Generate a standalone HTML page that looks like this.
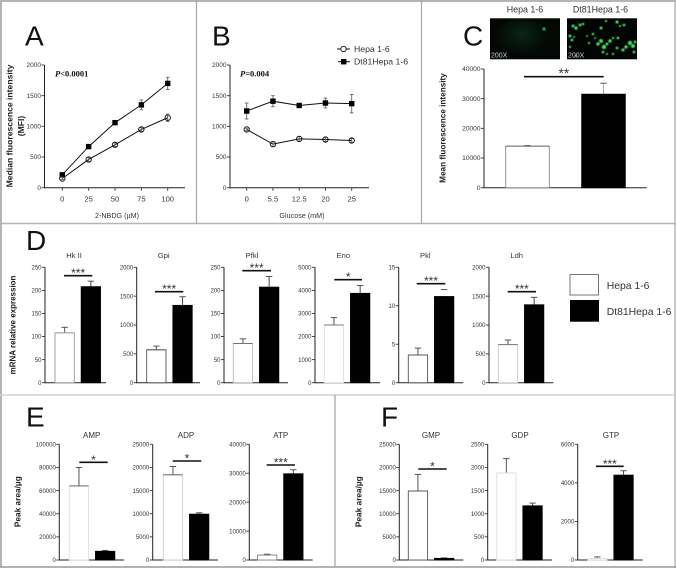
<!DOCTYPE html>
<html lang="en">
<head>
<meta charset="utf-8">
<title>Dt81Hepa 1-6 metabolism figure</title>
<style>
html,body{margin:0;padding:0;background:#fff;}
#figure{display:block;width:676px;height:568px;font-family:"Liberation Sans",sans-serif;filter:blur(0.35px);}
</style>
</head>
<body>
<svg id="figure" width="676" height="568" viewBox="0 0 676 568" xmlns="http://www.w3.org/2000/svg"></svg>
<script>
// ---- Line-chart data (panels A, B) ----
const nbdgCategories = ['0', '25', '50', '75', '100'];
const nbdgHepa = [150, 460, 700, 950, 1140];
const nbdgHepaErr = [20, 30, 30, 30, 60];
const nbdgDt81 = [210, 670, 1060, 1350, 1700];
const nbdgDt81Err = [20, 30, 30, 80, 100];
const glucoseCategories = ['0', '5.5', '12.5', '20', '25'];
const glucoseHepa = [950, 710, 795, 785, 770];
const glucoseHepaErr = [20, 40, 40, 30, 30];
const glucoseDt81 = [1250, 1410, 1340, 1380, 1370];
const glucoseDt81Err = [130, 90, 30, 80, 150];
const mfiTicks = [0, 500, 1000, 1500, 2000];

// ---- Bar-chart data ----
const groupLabels = ['Hepa 1-6', 'Dt81Hepa 1-6'];
const meanFluorValues = [14000, 31500];
const meanFluorErrors = [200, 3700];
const meanFluorTicks = [0, 10000, 20000, 30000, 40000];
const hkValues = [108, 208];
const hkErrors = [12, 12];
const hkTicks = [0, 50, 100, 150, 200, 250];
const gpiValues = [570, 1340];
const gpiErrors = [65, 150];
const gpiTicks = [0, 500, 1000, 1500, 2000];
const pfklValues = [85, 207];
const pfklErrors = [10, 23];
const pfklTicks = [0, 50, 100, 150, 200, 250];
const enoValues = [2500, 3870];
const enoErrors = [320, 340];
const enoTicks = [0, 1000, 2000, 3000, 4000, 5000];
const pklValues = [3.6, 11.2];
const pklErrors = [0.9, 0.9];
const pklTicks = [0, 5, 10, 15];
const ldhValues = [660, 1350];
const ldhErrors = [80, 130];
const ldhTicks = [0, 500, 1000, 1500, 2000];
const ampValues = [64000, 7500];
const ampErrors = [16000, 800];
const ampTicks = [0, 20000, 40000, 60000, 80000, 100000];
const adpValues = [18400, 9900];
const adpErrors = [1800, 300];
const adpTicks = [0, 5000, 10000, 15000, 20000, 25000];
const atpValues = [1700, 29800];
const atpErrors = [300, 1400];
const atpTicks = [0, 10000, 20000, 30000, 40000];
const gmpValues = [14900, 350];
const gmpErrors = [3600, 100];
const gmpTicks = [0, 5000, 10000, 15000, 20000, 25000];
const gdpValues = [1880, 1170];
const gdpErrors = [310, 60];
const gdpTicks = [0, 500, 1000, 1500, 2000, 2500];
const gtpValues = [80, 4400];
const gtpErrors = [80, 230];
const gtpTicks = [0, 2000, 4000, 6000];

const svg = document.getElementById('figure');
const NS = 'http://www.w3.org/2000/svg';
const INK = '#222';
const TICK = '#333';

function add(tag, attrs, name, parent) {
  const e = document.createElementNS(NS, tag);
  for (const k in attrs) e.setAttribute(k, attrs[k]);
  
  
  (parent || svg).appendChild(e);
  return e;
}
function label(str, x, y, size, name, opts, parent) {
  const t = add('text', Object.assign({x: x, y: y, 'font-size': size, fill: INK}, opts || {}), name, parent);
  t.textContent = str;
  return t;
}
function vlabel(str, x, cy, size, name, opts) {
  return label(str, x, cy, size, name, Object.assign({'text-anchor': 'middle', transform: 'rotate(-90 ' + x + ' ' + cy + ')'}, opts || {}));
}
function line(x1, y1, x2, y2, stroke, w, name, parent) {
  return add('line', {x1: x1, y1: y1, x2: x2, y2: y2, stroke: stroke, 'stroke-width': w}, name, parent);
}

// Frame
add('rect', {x: 0, y: 0, width: 676, height: 568, fill: '#fff'}, 'figure-background');
line(1, 0.5, 1, 567, '#b5b5b5', 2, 'frame-left');
line(0, 1, 676, 1, '#b5b5b5', 2, 'frame-top');
line(675, 0, 675, 568, '#b5b5b5', 1.5, 'frame-right');
line(0, 567, 676, 567, '#9a9a9a', 1.5, 'frame-bottom');
line(0, 223.5, 676, 223.5, '#b5b5b5', 1.5, 'divider-top-row');
line(0, 395, 676, 395, '#d4d4d4', 1.5, 'divider-bottom-row');
line(196.5, 0, 196.5, 224, '#a8a8a8', 1.2, 'divider-a-b');
line(421.5, 0, 421.5, 224, '#a8a8a8', 1.2, 'divider-b-c');
line(335, 395, 335, 567, '#a0a0a0', 1.2, 'divider-e-f');

// Panel letters
[['A', 25, 45.7], ['B', 212, 45.7], ['C', 463, 45.7], ['D', 26, 250], ['E', 26, 426.7], ['F', 381, 426.7]].forEach(function (p) {
  label(p[0], p[1], p[2], 28, 'panel-letter-' + p[0].toLowerCase(), {fill: '#111'});
});

function yAxis(cfg, group) {
  const y = function (v) { return cfg.base - v / cfg.max * (cfg.base - cfg.top); };
  line(cfg.axisX, cfg.top, cfg.axisX, cfg.base + 0.5, INK, 1, 'y-axis', group);
  line(cfg.axisX, cfg.base, cfg.axisEnd, cfg.base, INK, 1, 'x-axis', group);
  cfg.ticks.forEach(function (t) {
    line(cfg.axisX - 3, y(t), cfg.axisX, y(t), TICK, 0.9, 'y-tick', group);
    label(String(t), cfg.axisX - 3.5, y(t) + 2.2, cfg.tickSize || 6, 'y-tick-label', {'text-anchor': 'end', fill: TICK}, group);
  });
  return y;
}

// ---- Line charts ----
function lineChart(cfg) {
  const g = add('g', {}, cfg.name);
  const y = yAxis(cfg, g);
  const x = function (i) { return cfg.firstX + i * cfg.stepX; };
  cfg.categories.forEach(function (c, i) {
    line(x(i), cfg.base, x(i), cfg.base + 3, TICK, 0.9, 'x-tick', g);
    label(c, x(i), cfg.base + 14, 7.6, 'x-tick-label', {'text-anchor': 'middle', fill: TICK}, g);
  });
  function series(vals, errs, kind) {
    const pts = vals.map(function (v, i) { return x(i) + ',' + y(v); }).join(' ');
    add('polyline', {points: pts, fill: 'none', stroke: '#111', 'stroke-width': 1}, kind + '-line', g);
    vals.forEach(function (v, i) {
      line(x(i), y(v - errs[i]), x(i), y(v + errs[i]), '#666', 0.9, kind + '-error-bar', g);
      line(x(i) - 1.8, y(v + errs[i]), x(i) + 1.8, y(v + errs[i]), '#666', 0.9, kind + '-error-cap', g);
      line(x(i) - 1.8, y(v - errs[i]), x(i) + 1.8, y(v - errs[i]), '#666', 0.9, kind + '-error-cap', g);
      if (kind === 'dt81') {
        add('rect', {x: x(i) - 2.7, y: y(v) - 2.7, width: 5.4, height: 5.4, fill: '#000'}, 'dt81-point', g);
      } else {
        add('circle', {cx: x(i), cy: y(v), r: 2.7, fill: 'none', stroke: '#111', 'stroke-width': 0.9}, 'hepa-point', g);
      }
    });
  }
  series(cfg.dt81, cfg.dt81Err, 'dt81');
  series(cfg.hepa, cfg.hepaErr, 'hepa');
  label(cfg.xTitle, cfg.xTitleX, 218, 7.2, 'x-axis-title', {'text-anchor': 'middle', fill: '#333'}, g);
  const p = label('', cfg.pX, 76.7, 8.5, 'p-value', {'font-family': '"Liberation Serif",serif', 'font-weight': 'bold', fill: '#111'}, g);
  const i1 = add('tspan', {'font-style': 'italic'}, 'p-symbol', p);
  i1.textContent = 'P';
  const i2 = add('tspan', {}, 'p-number', p);
  i2.textContent = cfg.pText;
}

lineChart({name: 'chart-a-2nbdg', axisX: 44.5, axisEnd: 185, top: 65, base: 187.7, max: 2000, ticks: mfiTicks, tickSize: 6.5,
  categories: nbdgCategories, firstX: 62.3, stepX: 26.35, hepa: nbdgHepa, hepaErr: nbdgHepaErr, dt81: nbdgDt81, dt81Err: nbdgDt81Err,
  xTitle: '2-NBDG (\u00b5M)', xTitleX: 117, pX: 55, pText: '<0.0001'});
lineChart({name: 'chart-b-glucose', axisX: 230, axisEnd: 369, top: 65, base: 187.7, max: 2000, ticks: mfiTicks, tickSize: 6.5,
  categories: glucoseCategories, firstX: 246.7, stepX: 26.25, hepa: glucoseHepa, hepaErr: glucoseHepaErr, dt81: glucoseDt81, dt81Err: glucoseDt81Err,
  xTitle: 'Glucose (mM)', xTitleX: 302, pX: 240, pText: '=0.004'});

vlabel('Median fluorescence intensity', 12.5, 126, 8.6, 'y-axis-title-a', {'font-weight': 'bold'});
vlabel('(MFI)', 24, 126, 8.6, 'y-axis-title-a-unit', {'font-weight': 'bold'});

// Legend for A/B
line(337, 49, 350, 49, '#111', 1, 'legend-hepa-line');
add('circle', {cx: 343.5, cy: 49, r: 2.7, fill: '#fff', stroke: '#111', 'stroke-width': 0.9}, 'legend-hepa-marker');
line(338, 61.7, 350, 61.7, '#111', 1, 'legend-dt81-line');
add('rect', {x: 341, y: 59, width: 5.4, height: 5.4, fill: '#000'}, 'legend-dt81-marker');
label(groupLabels[0], 354, 52, 8.7, 'legend-hepa-label', {fill: '#333'});
label(groupLabels[1], 354, 64.7, 8.7, 'legend-dt81-label', {fill: '#333'});

// ---- Bar charts ----
function barChart(cfg) {
  const g = add('g', {}, cfg.name);
  const y = yAxis(cfg, g);
  const x = function (i) { return cfg.firstBar + i * cfg.step; };
  if (cfg.title) label(cfg.title, cfg.titleX, cfg.titleY, cfg.titleSize || 7.6, 'chart-title', {'text-anchor': 'middle', fill: '#333'}, g);
  cfg.values.forEach(function (v, i) {
    const cx = x(i) + cfg.barW / 2;
    const top = y(v + cfg.errors[i]);
    line(cx, top, cx, y(v), i === 1 ? (cfg.darkErr || '#444') : '#555', 1, 'error-bar', g);
    line(cx - 3.2, top, cx + 3.2, top, '#444', 0.9, 'error-cap', g);
    add('rect', {x: x(i), y: y(v), width: cfg.barW, height: cfg.base - y(v),
      fill: i === 0 ? '#fff' : '#000', stroke: i === 0 ? cfg.edge : '#000', 'stroke-width': 0.9},
      i === 0 ? 'bar-hepa' : 'bar-dt81', g);
    if (i === 0) line(x(i), y(v), x(i) + cfg.barW, y(v), cfg.topEdge || cfg.edge, 0.9, 'bar-hepa-top', g);
  });
  if (cfg.sig) {
    line(cfg.sigX1, cfg.sigY, cfg.sigX2, cfg.sigY, '#111', 1.6, 'significance-bar', g);
    label(cfg.sig, (cfg.sigX1 + cfg.sigX2) / 2, cfg.sigY - 5.5 + 7, cfg.sigSize || 12, 'significance-stars', {'text-anchor': 'middle', fill: '#333'}, g);
  }
}

const dRow = {top: 267.3, base: 382.7, step: 26.2, barW: 19.3, titleY: 258};
const eRow = {top: 444.3, base: 560, step: 26.2, barW: 19.3, titleY: 438, titleSize: 8, tickSize: 6};

barChart({name: 'chart-c-mean-fluorescence', axisX: 484, axisEnd: 646.7, top: 69, base: 187.7, max: 40000, ticks: meanFluorTicks, tickSize: 6.6,
  values: meanFluorValues, errors: meanFluorErrors, firstBar: 505.7, step: 76, barW: 43.6, edge: '#888', topEdge: '#666', darkErr: '#aaa',
  sig: '**', sigX1: 524, sigX2: 603.7, sigY: 76.7, sigSize: 13.7});

barChart(Object.assign({}, dRow, {name: 'chart-d-hk2', axisX: 45, axisEnd: 106, max: 250, ticks: hkTicks, values: hkValues, errors: hkErrors,
  firstBar: 55, edge: '#999', title: 'Hk II', titleX: 74, sig: '***', sigX1: 64, sigX2: 92.3, sigY: 275.7}));
barChart(Object.assign({}, dRow, {name: 'chart-d-gpi', axisX: 136.7, axisEnd: 200, max: 2000, ticks: gpiTicks, values: gpiValues, errors: gpiErrors,
  firstBar: 146.7, edge: '#555', title: 'Gpi', titleX: 163.7, sig: '***', sigX1: 155, sigX2: 183.3, sigY: 291.7}));
barChart(Object.assign({}, dRow, {name: 'chart-d-pfkl', axisX: 224, axisEnd: 288, max: 250, ticks: pfklTicks, values: pfklValues, errors: pfklErrors,
  firstBar: 233.3, edge: '#bbb', topEdge: '#666', title: 'Pfkl', titleX: 252, sig: '***', sigX1: 242.3, sigX2: 271, sigY: 270.7}));
barChart(Object.assign({}, dRow, {name: 'chart-d-eno', axisX: 315, axisEnd: 380, max: 5000, ticks: enoTicks, values: enoValues, errors: enoErrors,
  firstBar: 324.3, edge: '#ddd', topEdge: '#777', title: 'Eno', titleX: 343.3, sig: '*', sigX1: 334.3, sigX2: 362, sigY: 279.7}));
barChart(Object.assign({}, dRow, {name: 'chart-d-pkl', axisX: 398.7, axisEnd: 463.3, max: 15, ticks: pklTicks, values: pklValues, errors: pklErrors,
  firstBar: 408.3, edge: '#555', darkErr: '#fff', title: 'Pkl', titleX: 425.3, sig: '***', sigX1: 416.7, sigX2: 445.3, sigY: 283.7}));
barChart(Object.assign({}, dRow, {name: 'chart-d-ldh', axisX: 489, axisEnd: 553.3, max: 2000, ticks: ldhTicks, values: ldhValues, errors: ldhErrors,
  firstBar: 498.3, edge: '#ccc', topEdge: '#777', title: 'Ldh', titleX: 516.7, sig: '***', sigX1: 507.7, sigX2: 536, sigY: 291.7}));

barChart(Object.assign({}, eRow, {name: 'chart-e-amp', axisX: 59.3, axisEnd: 124, max: 100000, ticks: ampTicks, values: ampValues, errors: ampErrors,
  firstBar: 69.3, edge: '#ddd', topEdge: '#555', title: 'AMP', titleX: 91.7, sig: '*', sigX1: 79.3, sigX2: 107.7, sigY: 462.3}));
barChart(Object.assign({}, eRow, {name: 'chart-e-adp', axisX: 152.7, axisEnd: 218, max: 25000, ticks: adpTicks, values: adpValues, errors: adpErrors,
  firstBar: 163.3, edge: '#ccc', topEdge: '#555', title: 'ADP', titleX: 186, sig: '*', sigX1: 172.7, sigX2: 201.3, sigY: 461}));
barChart(Object.assign({}, eRow, {name: 'chart-e-atp', axisX: 249.3, axisEnd: 312.7, max: 40000, ticks: atpTicks, values: atpValues, errors: atpErrors,
  firstBar: 257.5, edge: '#888', title: 'ATP', titleX: 280.7, sig: '***', sigX1: 266.7, sigX2: 295, sigY: 465}));
barChart(Object.assign({}, eRow, {name: 'chart-f-gmp', axisX: 399.3, axisEnd: 463.3, max: 25000, ticks: gmpTicks, values: gmpValues, errors: gmpErrors,
  firstBar: 408.3, edge: '#555', title: 'GMP', titleX: 431, sig: '*', sigX1: 418.3, sigX2: 446.7, sigY: 469}));
barChart(Object.assign({}, eRow, {name: 'chart-f-gdp', axisX: 487.7, axisEnd: 552, max: 2500, ticks: gdpTicks, values: gdpValues, errors: gdpErrors,
  firstBar: 496.7, edge: '#ddd', title: 'GDP', titleX: 520}));
barChart(Object.assign({}, eRow, {name: 'chart-f-gtp', axisX: 577.7, axisEnd: 642.7, max: 6000, ticks: gtpTicks, values: gtpValues, errors: gtpErrors,
  firstBar: 587.7, edge: '#ddd', title: 'GTP', titleX: 611, sig: '***', sigX1: 596, sigX2: 623.7, sigY: 466.3}));

vlabel('Mean fluorescence intensity', 445.7, 128, 8.2, 'y-axis-title-c', {'font-weight': 'bold'});
vlabel('mRNA relative expression', 15.7, 325, 8, 'y-axis-title-d', {'font-weight': 'bold'});
vlabel('Peak area/\u00b5g', 20.7, 501.7, 8.3, 'y-axis-title-e', {'font-weight': 'bold'});
vlabel('Peak area/\u00b5g', 361.7, 501.7, 8.3, 'y-axis-title-f', {'font-weight': 'bold'});

// Legend for D
add('rect', {x: 570, y: 274.5, width: 28.5, height: 20.5, fill: '#fff', stroke: '#777', 'stroke-width': 1}, 'legend-d-hepa-swatch');
add('rect', {x: 570, y: 300, width: 29, height: 21.7, fill: '#000'}, 'legend-d-dt81-swatch');
label(groupLabels[0], 606.7, 289, 10.4, 'legend-d-hepa-label', {fill: '#333'});
label(groupLabels[1], 606.7, 315, 10.4, 'legend-d-dt81-label', {fill: '#333'});

// Micrographs above panel C
label(groupLabels[0], 525, 12.5, 8.9, 'micrograph-hepa-title', {'text-anchor': 'middle', fill: '#333'});
label(groupLabels[1], 600.5, 12.5, 8.9, 'micrograph-dt81-title', {'text-anchor': 'middle', fill: '#333'});
const defs = add('defs', {}, 'svg-defs');
const blur = add('filter', {id: 'soft'}, 'blob-blur', defs);
add('feGaussianBlur', {stdDeviation: 0.55}, 'blob-blur-kernel', blur);
const grad = add('radialGradient', {id: 'dimGlow', cx: '0.5', cy: '0.4', r: '0.5'}, 'dim-glow-gradient', defs);
add('stop', {offset: '0', 'stop-color': '#0a2516'}, 'dim-glow-inner', grad);
add('stop', {offset: '1', 'stop-color': '#030805'}, 'dim-glow-outer', grad);
const micro1 = add('g', {}, 'micrograph-hepa');
add('rect', {x: 490, y: 18.3, width: 70, height: 41, fill: '#030805'}, 'micrograph-hepa-background', micro1);
add('ellipse', {cx: 522, cy: 38.5, rx: 27, ry: 20, fill: 'url(#dimGlow)'}, 'micrograph-hepa-glow', micro1);
add('circle', {cx: 544, cy: 29, r: 1.6, fill: '#2fa860', filter: 'url(#soft)'}, 'micrograph-hepa-cell', micro1);
label('200X', 491, 57.5, 7, 'micrograph-hepa-magnification', {fill: '#ccc'}, micro1);
const micro2 = add('g', {}, 'micrograph-dt81');
add('rect', {x: 567, y: 18.3, width: 70, height: 41, fill: '#020503'}, 'micrograph-dt81-background', micro2);
const cellSpots = [[573,26,1.5],[576,28,1.8],[580,25,1.5],[583,24,1.3],[570,36,1.5],[572,40,1.4],[574,37,1],[593,34,1.3],[601,28,1.5],[606,21,1.2],[617,22,1.6],[620,26,1.1],[624,25,1.4],[598,44,1.7],[601,41,2],[604,47,2.2],[607,44,1.5],[610,41,1.8],[613,38,1.2],[618,38,1.4],[603,52,1.4],[607,54,1.1],[623,50,1.6],[626,47,1.8],[630,43,2.2],[633,46,2],[635,42,1.4],[617,48,1.4],[634,52,1.4],[570,47,1.2],[589,43,1.2],[613,54,1.2],[576,56,1.1],[595,38,1],[587,36,1]];
cellSpots.forEach(function (s) {
  add('circle', {cx: s[0], cy: s[1], r: s[2], fill: '#42d860', filter: 'url(#soft)'}, 'micrograph-dt81-cell', micro2);
});
label('200X', 568, 57.5, 7, 'micrograph-dt81-magnification', {fill: '#ccc'}, micro2);
</script>
</body>
</html>
